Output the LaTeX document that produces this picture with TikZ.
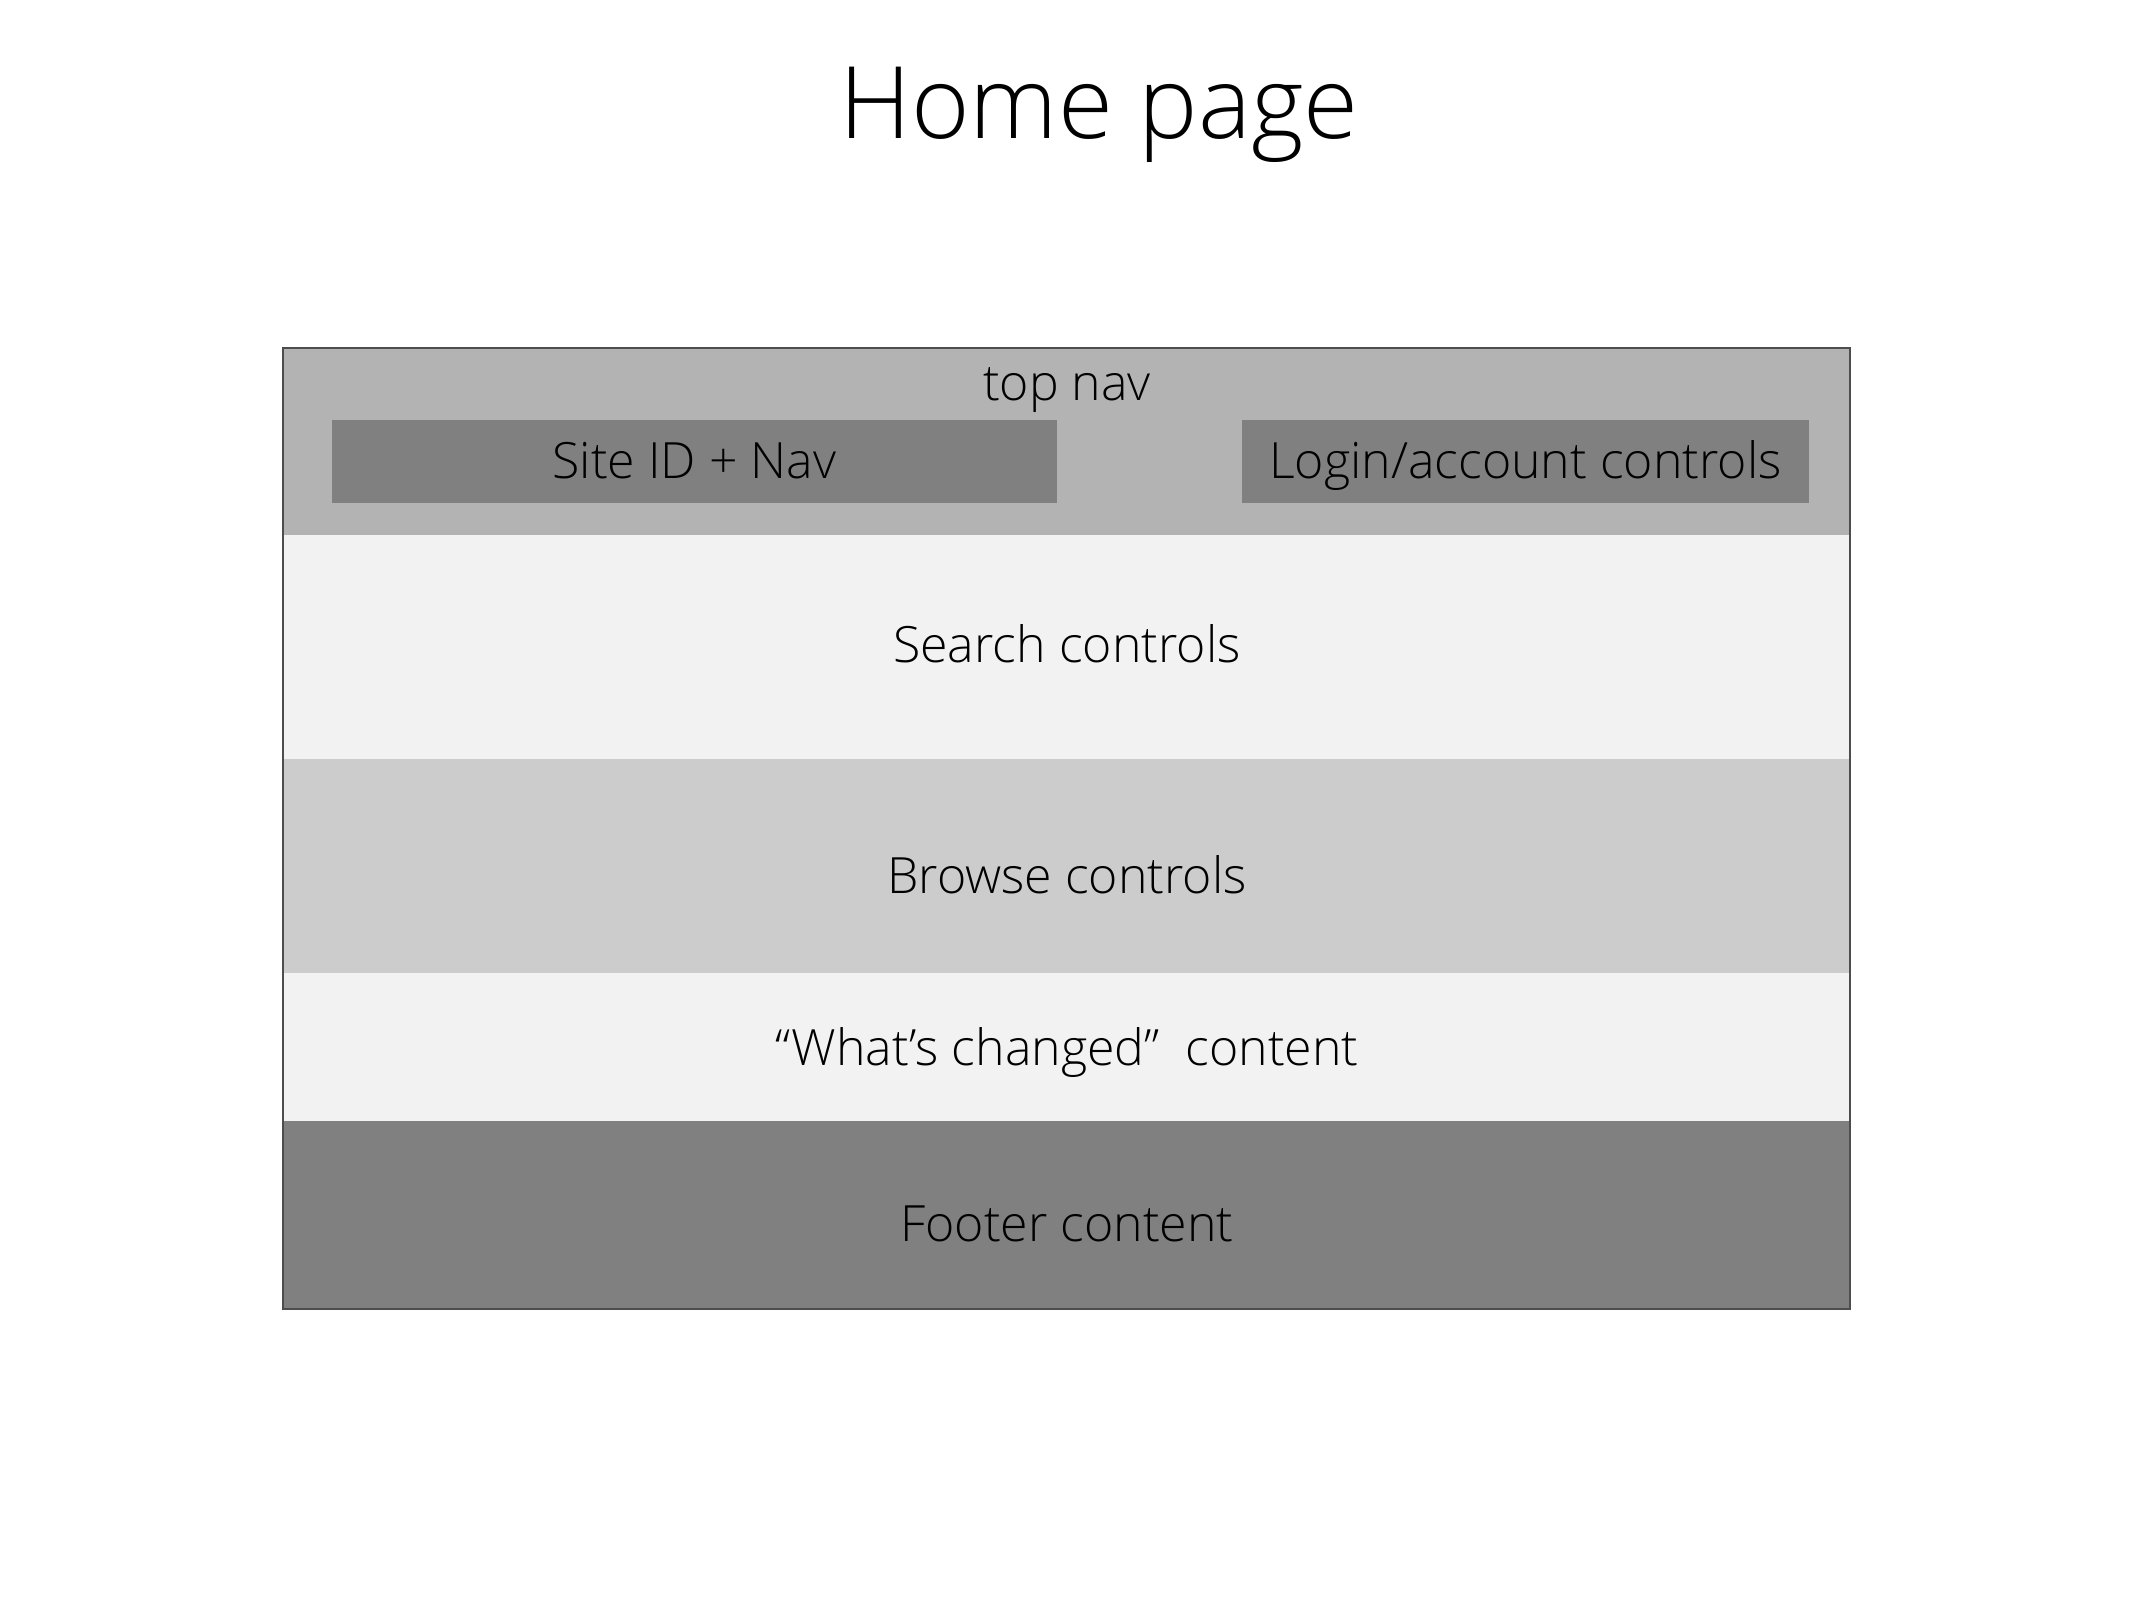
\documentclass[tikz,border=0pt]{standalone}
\usepackage{fontspec}
\setmainfont{Open Sans Light}
\begin{document}
\begin{tikzpicture}[x=1pt,y=-1pt,
  txt/.style={font=\fontsize{50}{60}\selectfont, text=black, inner sep=0pt},
  subbox/.style={txt, fill=gray50, draw=none, minimum height=83pt,
    text height=37pt, text depth=4pt},
]
\definecolor{gray50}{HTML}{808080}
\definecolor{gray70}{HTML}{B3B3B3}
\definecolor{gray80}{HTML}{CCCCCC}
\definecolor{gray95}{HTML}{F2F2F2}
\definecolor{frame}{HTML}{4D4D4D}
\useasboundingbox (0,0) rectangle (2133,1600);

% title
\node[inner sep=0pt, font=\fontsize{100}{120}\selectfont] (title) at (1099,115) {Home page};

% page sections
\fill[gray70] (283,348) rectangle (1850,535);
\fill[gray95] (283,535) rectangle (1850,759);
\fill[gray80] (283,759) rectangle (1850,973);
\fill[gray95] (283,973) rectangle (1850,1121);
\fill[gray50] (283,1121) rectangle (1850,1309);
\draw[frame, line width=2.8pt] (283,348) rectangle (1850,1309);

% top nav contents
\node[txt] (topnav) at (1067,390) {top nav};
\node[subbox, minimum width=725pt] (siteid) at (694.5,461.5) {Site ID + Nav};
\node[subbox, minimum width=567pt] (login) at (1525.5,461.5) {Login/account controls};

% section labels
\node[txt] (search) at (1067,644) {Search controls};
\node[txt] (browse) at (1067,875) {Browse controls};
\node[txt] (changed) at (1067,1052) {“What’s changed”\ \ content};
\node[txt] (footer) at (1067,1224) {Footer content};
\end{tikzpicture}
\end{document}
